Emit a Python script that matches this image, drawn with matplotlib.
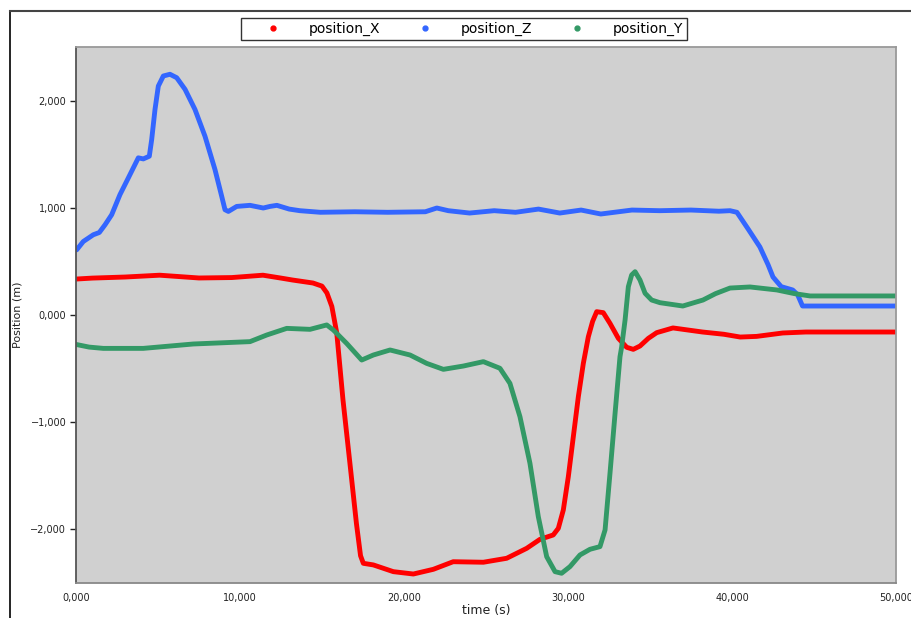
import matplotlib
matplotlib.use("Agg")
import matplotlib.pyplot as plt
from matplotlib.lines import Line2D
from matplotlib.ticker import FuncFormatter

# time (s) and values (m)
t_x = [0, 1000, 3000, 5100, 7500, 9500, 11400, 12500, 13200, 14450, 15000, 15300, 15600,
       15900, 16280, 16700, 17100, 17350, 17520, 18130, 19350, 20570, 21790, 23000,
       24840, 26260, 27480, 28290, 29100, 29410, 29715, 30020, 30325, 30630, 30935,
       31240, 31500, 31750, 32150, 32560, 33070, 33580, 33980, 34390, 34900, 35410,
       36400, 38200, 39500, 40500, 41500, 43100, 44500, 50000]
pos_x = [336, 345, 355, 372, 346, 350, 372, 345, 327, 299, 270, 206, 80,
         -168, -794, -1383, -1950, -2250, -2321, -2336, -2399, -2421, -2377, -2306,
         -2311, -2274, -2181, -2097, -2056, -1994, -1822, -1511, -1137, -764, -452,
         -203, -60, 31, 22, -78, -218, -302, -321, -290, -218, -165,
         -121, -159, -180, -206, -200, -168, -159, -159]

t_z = [40, 445, 1055, 1420, 1770, 2175, 2680, 3190, 3800, 4105, 4470, 4615, 4817, 5020,
       5325, 5730, 6140, 6650, 7255, 7865, 8475, 8885, 9085, 9290, 9800, 10610, 11420,
       11830, 12250, 13000, 13650, 14900, 17000, 19000, 21300, 22000, 22700, 24000,
       25500, 26800, 28200, 29500, 30800, 32000, 33900, 35600, 37500, 39200, 39880,
       40300, 41000, 41700, 42200, 42500, 43000, 43700, 44000, 44300, 46000, 50000]
pos_z = [609, 687, 750, 771, 843, 937, 1125, 1281, 1469, 1459, 1484, 1640, 1921, 2140,
         2234, 2250, 2218, 2109, 1921, 1671, 1359, 1109, 984, 968, 1015, 1025, 1000,
         1015, 1025, 990, 975, 960, 965, 960, 965, 1000, 975, 953,
         975, 960, 990, 953, 981, 944, 981, 975, 981, 970, 975,
         960, 800, 636, 470, 355, 265, 234, 190, 84, 84, 84]

t_y = [0, 800, 1665, 4100, 7150, 10610, 11630, 12850, 14270, 15290, 15690, 16500,
       17420, 18130, 19150, 20370, 21380, 22400, 23620, 24840, 25850, 26460, 27070,
       27680, 28190, 28700, 29210, 29610, 30120, 30730, 31340, 31950, 32260, 32560,
       32870, 33170, 33270, 33480, 33680, 33880, 34090, 34390, 34700, 35100, 35610,
       37000, 38230, 39000, 39880, 41100, 42740, 43800, 44760, 50000]
pos_y = [-275, -300, -312, -312, -271, -249, -187, -125, -134, -93, -140, -265,
         -421, -374, -327, -374, -452, -508, -477, -436, -498, -639, -950,
         -1386, -1885, -2259, -2399, -2414, -2352, -2243, -2190, -2165, -2009, -1480,
         -919, -390, -300, -47, 265, 374, 405, 327, 203, 140, 115,
         84, 140, 200, 252, 262, 234, 200, 178, 178]

x_ticks = [0, 10000, 20000, 30000, 40000, 50000]
y_ticks = [-2000, -1000, 0, 1000, 2000]

fig = plt.figure(figsize=(9.12, 6.18), dpi=100)
ax = fig.add_axes([76/912, 1 - 583/618, (896-76)/912, (583-47)/618])
ax.set_facecolor("#d0d0d0")

lw = 3.5
for t, v, c in [(t_x, pos_x, "#ff0000"), (t_z, pos_z, "#3366ff"), (t_y, pos_y, "#339966")]:
    ax.plot(t, v, color=c, lw=lw, solid_capstyle="round", solid_joinstyle="round")

ax.set_xlim(0, 50000)
ax.set_ylim(-2505, 2505)
ax.set_xticks(x_ticks)
ax.set_yticks(y_ticks)

def fmt(v, pos):
    s = "{:,.3f}".format(v / 1000.0).replace(".", ",")
    return s.replace("-", "\u2212")

ax.xaxis.set_major_formatter(FuncFormatter(fmt))
ax.yaxis.set_major_formatter(FuncFormatter(fmt))
ax.tick_params(axis="x", length=0, labelsize=7, pad=7, colors="#222222")
ax.tick_params(axis="y", length=4, width=1, labelsize=7, pad=3, color="#222222", labelcolor="#222222")

ax.spines["left"].set_color("#555555")
ax.spines["bottom"].set_color("#888888")
ax.spines["top"].set_color("#999999")
ax.spines["right"].set_color("#999999")
for s in ax.spines.values():
    s.set_linewidth(1.3)

ax.set_xlabel("time (s)", fontsize=9, color="#222222", labelpad=1)
ax.set_ylabel("Position (m)", fontsize=8, color="#222222", labelpad=6)

# outer frame lines
fig.add_artist(Line2D([10/912, 10/912], [0, 1 - 11/618], transform=fig.transFigure, color="black", lw=1.2))
fig.add_artist(Line2D([10/912, 1], [1 - 11/618, 1 - 11/618], transform=fig.transFigure, color="#444444", lw=1.5))

handles = [
    Line2D([], [], marker="o", linestyle="none", color="#ff0000", markersize=3.5),
    Line2D([], [], marker="o", linestyle="none", color="#3366ff", markersize=3.5),
    Line2D([], [], marker="o", linestyle="none", color="#339966", markersize=3.5),
]
leg = fig.legend(handles, ["position_X", "position_Z", "position_Y"], loc="center",
                 bbox_to_anchor=(464/912, 1 - 29/618), bbox_transform=fig.transFigure,
                 ncol=3, frameon=True, fancybox=False, fontsize=10, handlelength=4.0,
                 handletextpad=0.6, columnspacing=1.2, borderpad=0.3, borderaxespad=0)
leg.get_frame().set_edgecolor("black")
leg.get_frame().set_linewidth(1.0)

fig.savefig("out.png", dpi=100)
